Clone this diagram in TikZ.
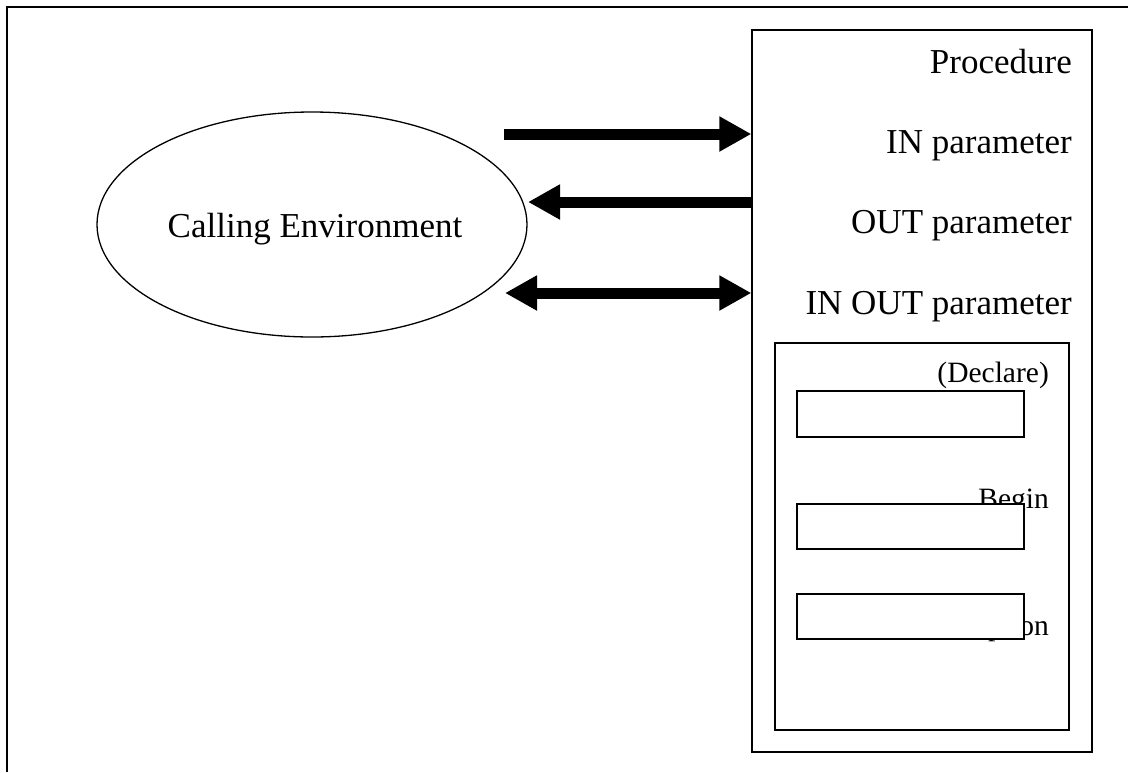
\documentclass[tikz,border=0pt]{standalone}
\usepackage{fontspec}
\setmainfont{Liberation Serif}
\usepackage{tikz}
\usetikzlibrary{calc,arrows.meta,shapes.geometric}

\tikzset{
  bigtxt/.style={font=\fontsize{35}{42}\selectfont, inner sep=0pt, anchor=base east},
  smalltxt/.style={font=\fontsize{29.5}{35}\selectfont, inner sep=0pt, anchor=base east},
  frame/.style={draw, line width=1.2pt, inner sep=0pt},
  slot/.style={draw, fill=white, line width=1.2pt, inner sep=0pt, minimum width=227pt, minimum height=45pt},
  fatarrow/.style={line width=11pt, -{Triangle[length=32pt,width=33pt]}},
  fatboth/.style={line width=11pt, {Triangle[length=32pt,width=33pt]}-{Triangle[length=32pt,width=33pt]}},
}

\begin{document}
\begin{tikzpicture}[x=1pt,y=-1pt,line cap=butt]
\useasboundingbox (0,0) rectangle (1128,772);
\def\R{1072}  % right edge of the outer labels
\def\r{1049}  % right edge of the inner labels
% page frame (cut at the right and bottom)
\draw[line width=1.6pt] (7,772) -- (7,7) -- (1128,7);
% calling environment
\node[ellipse, draw, line width=1.3pt, minimum width=430pt, minimum height=225pt, inner sep=0pt] (env) at (312,224.5) {};
\node[font=\fontsize{35}{42}\selectfont, inner sep=0pt, anchor=base] (envtxt) at ($(env.center)+(3,12.5)$) {Calling Environment};
% procedure box and its body
\node[frame, minimum width=340pt, minimum height=722pt] (proc) at (922,391) {};
\node[frame, minimum width=294pt, minimum height=387pt] (body) at (922,536.5) {};
% labels
\node[bigtxt] (ptitle) at (\R,73) {Procedure};
\node[bigtxt] (pin) at (\R,153) {IN parameter};
\node[bigtxt] (pout) at (\R,233) {OUT parameter};
\node[bigtxt] (pinout) at (\R,314) {IN OUT parameter};
\node[smalltxt] (decl) at (\r,382) {(Declare)};
\node[smalltxt] (bgn) at (\r,508) {Begin};
\node[smalltxt] (excp) at (\r,635) {Exception};
% empty slots, drawn over the labels
\node[slot, minimum height=46pt] (slotA) at (910.5,414) {};
\node[slot] (slotB) at (910.5,526.5) {};
\node[slot] (slotC) at (910.5,616.5) {};
% arrow ends
\coordinate (inA) at (504,134);
\coordinate (outA) at (528,202);
\coordinate (ioA) at (505,293);
% arrows
\draw[fatarrow] (inA) -- (inA -| proc.west);
\draw[fatarrow] (outA -| proc.west) -- (outA);
\draw[fatboth] (ioA) -- (ioA -| proc.west);
\end{tikzpicture}
\end{document}
